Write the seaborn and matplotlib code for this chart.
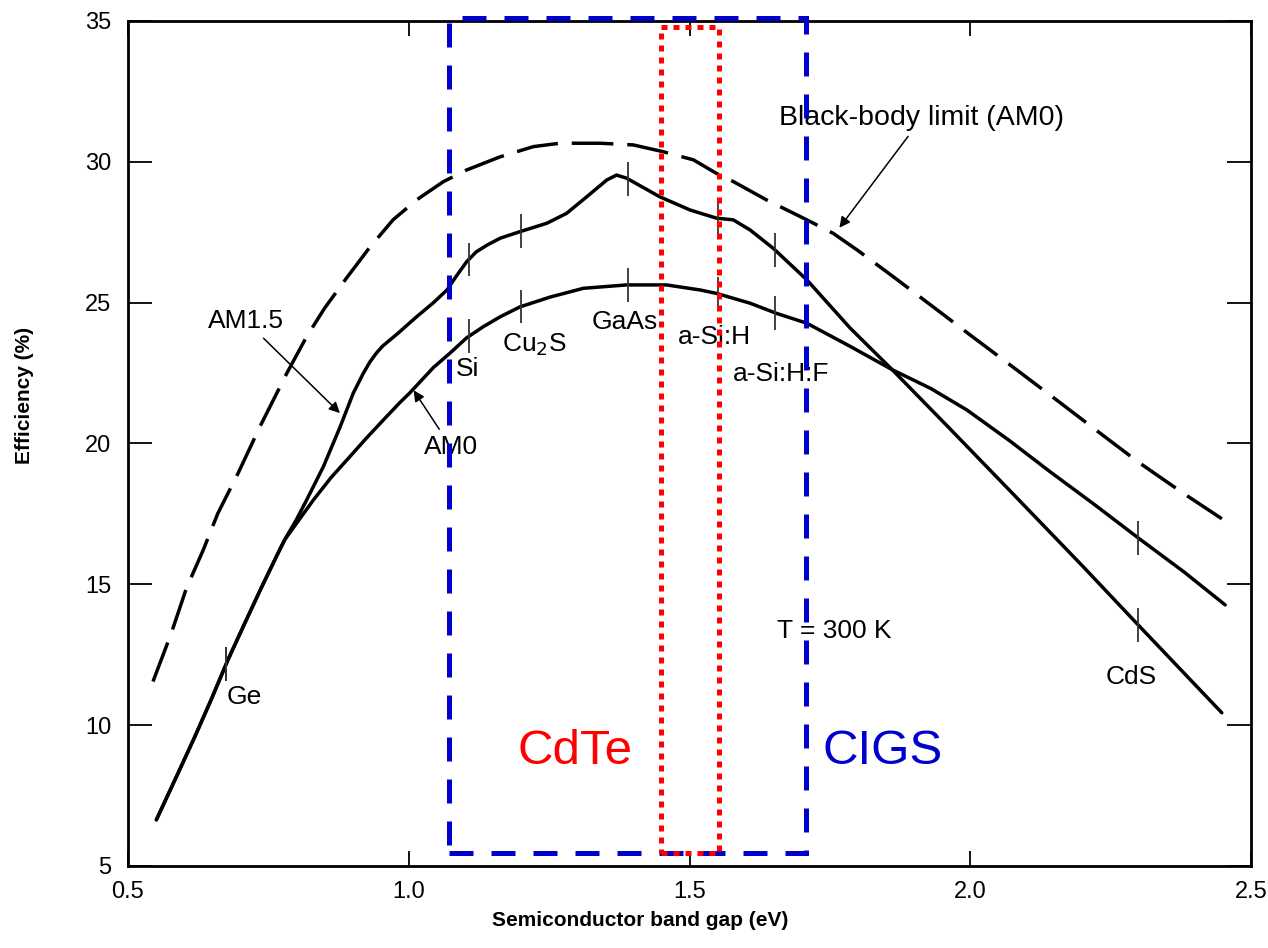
import matplotlib
matplotlib.use("Agg")
import matplotlib.pyplot as plt
import numpy as np
import seaborn as sns
from matplotlib.patches import Rectangle

# curves (band gap in eV, efficiency in %)
bb_gap = [0.5445, 0.577, 0.604, 0.634, 0.660, 0.696, 0.735, 0.783, 0.818, 0.850,
          0.889, 0.930, 0.972, 1.014, 1.062, 1.103, 1.163, 1.222, 1.269, 1.341,
          1.400, 1.453, 1.507, 1.548, 1.578, 1.637, 1.709, 1.756, 1.800, 1.863,
          1.934, 2.000, 2.083, 2.160, 2.231, 2.300, 2.379, 2.457]
bb_eff = [11.55, 13.26, 14.86, 16.22, 17.52, 18.94, 20.60, 22.50, 23.79, 24.80,
          25.87, 26.95, 27.94, 28.65, 29.30, 29.71, 30.18, 30.54, 30.66, 30.66,
          30.60, 30.36, 30.07, 29.59, 29.30, 28.65, 27.94, 27.46, 26.85, 25.92,
          24.85, 23.85, 22.61, 21.45, 20.37, 19.33, 18.24, 17.21]

am15_gap = [0.5505, 0.589, 0.619, 0.648, 0.678, 0.708, 0.737, 0.767, 0.779, 0.800,
            0.818, 0.848, 0.878, 0.901, 0.919, 0.931, 0.942, 0.953, 0.965, 0.980,
            1.014, 1.044, 1.068, 1.085, 1.103, 1.120, 1.140, 1.163, 1.198, 1.246,
            1.281, 1.317, 1.353, 1.370, 1.388, 1.447, 1.501, 1.548, 1.578, 1.608,
            1.649, 1.709, 1.786, 1.862, 1.964, 2.083, 2.200, 2.299, 2.448]
am15_eff = [6.64, 8.29, 9.59, 10.90, 12.32, 13.62, 14.86, 16.10, 16.58, 17.30,
            17.99, 19.18, 20.60, 21.78, 22.49, 22.90, 23.20, 23.45, 23.65, 23.90,
            24.50, 25.00, 25.45, 25.95, 26.45, 26.80, 27.05, 27.29, 27.52, 27.82,
            28.17, 28.76, 29.36, 29.53, 29.42, 28.76, 28.29, 28.00, 27.94, 27.58,
            26.93, 25.81, 24.10, 22.60, 20.52, 18.07, 15.65, 13.56, 10.44]

am0_gap = [0.5505, 0.589, 0.619, 0.648, 0.678, 0.708, 0.737, 0.767, 0.779, 0.805,
           0.830, 0.862, 0.895, 0.925, 0.955, 0.984, 1.002, 1.044, 1.073, 1.103,
           1.133, 1.163, 1.198, 1.252, 1.311, 1.388, 1.459, 1.519, 1.548, 1.608,
           1.655, 1.709, 1.786, 1.862, 1.930, 1.994, 2.070, 2.142, 2.220, 2.299,
           2.380, 2.454]
am0_eff = [6.64, 8.29, 9.59, 10.90, 12.32, 13.62, 14.86, 16.10, 16.58, 17.30,
           17.99, 18.80, 19.53, 20.20, 20.84, 21.45, 21.80, 22.70, 23.20, 23.75,
           24.15, 24.50, 24.85, 25.20, 25.51, 25.63, 25.63, 25.45, 25.33, 24.98,
           24.62, 24.27, 23.45, 22.61, 21.95, 21.19, 20.10, 19.00, 17.85, 16.65,
           15.45, 14.27]

# materials marked on the curves
materials = ["Ge", "Si", "Cu$_2$S", "GaAs", "a-Si:H", "a-Si:H:F", "CdS"]
mat_gap = [0.675, 1.107, 1.200, 1.390, 1.551, 1.652, 2.299]

# absorber band gap windows
cigs_range = [1.072, 1.7075]
cdte_range = [1.449, 1.5525]

x_ticks = [0.5, 1.0, 1.5, 2.0, 2.5]
y_ticks = [5, 10, 15, 20, 25, 30, 35]

sns.set_style("ticks")
plt.rcParams["font.family"] = ["Liberation Sans", "DejaVu Sans"]
plt.rcParams["text.color"] = "black"
plt.rcParams["axes.labelcolor"] = "black"
plt.rcParams["xtick.color"] = "black"
plt.rcParams["ytick.color"] = "black"

fig = plt.figure(figsize=(12.68, 9.48), dpi=100)
ax = fig.add_axes([128 / 1268, 82 / 948, 1123 / 1268, 845 / 948])

sns.lineplot(x=bb_gap, y=bb_eff, ax=ax, color="black", lw=2.5,
             linestyle=(0, (12, 4)), sort=False, estimator=None)
sns.lineplot(x=am15_gap, y=am15_eff, ax=ax, color="black", lw=2.5,
             sort=False, estimator=None)
sns.lineplot(x=am0_gap, y=am0_eff, ax=ax, color="black", lw=2.5,
             sort=False, estimator=None)

# small vertical marks where each material sits on the curves
for name, g in zip(materials, mat_gap):
    for gx, gy in [(am15_gap, am15_eff), (am0_gap, am0_eff)]:
        yv = np.interp(g, gx, gy)
        ax.vlines(g, yv - 0.6, yv + 0.6, color="#333333", lw=1.3)

ax.set_xlim(0.5, 2.5)
ax.set_ylim(5, 35)
ax.set_xticks(x_ticks)
ax.set_xticklabels(["0.5", "1.0", "1.5", "2.0", "2.5"])
ax.set_yticks(y_ticks)
ax.tick_params(axis="x", direction="in", length=11, width=1.3, top=True,
               labelsize=17, pad=11)
ax.tick_params(axis="y", direction="in", length=17, width=1.3, right=True,
               labelsize=17, pad=12)
for s in ax.spines.values():
    s.set_linewidth(2)
    s.set_color("black")

ax.set_xlabel("Semiconductor band gap (eV)", fontsize=15, fontweight="bold",
              va="center")
ax.xaxis.set_label_coords(0.456, -0.064)
ax.set_ylabel("Efficiency (%)", fontsize=15, fontweight="bold", va="center")
ax.yaxis.set_label_coords(-0.092, 0.557)

fs = 19
ax.text(0.707, 11.0, "Ge", fontsize=fs, ha="center", va="center")
ax.text(1.104, 22.65, "Si", fontsize=fs, ha="center", va="center")
ax.text(1.223, 23.5, "Cu$_2$S", fontsize=fs, ha="center", va="center")
ax.text(1.385, 24.31, "GaAs", fontsize=fs, ha="center", va="center")
ax.text(1.544, 23.78, "a-Si:H", fontsize=fs, ha="center", va="center")
ax.text(1.663, 22.47, "a-Si:H:F", fontsize=fs, ha="center", va="center")
ax.text(2.286, 11.71, "CdS", fontsize=fs, ha="center", va="center")
ax.text(1.757, 13.35, "T = 300 K", fontsize=fs, ha="center", va="center")

arrow = dict(arrowstyle="-|>", color="black", lw=1.1, mutation_scale=16)
ax.annotate("AM1.5", xy=(0.881, 21.01), xytext=(0.71, 24.35), fontsize=fs,
            ha="center", va="center", arrowprops=arrow)
ax.annotate("AM0", xy=(1.006, 21.97), xytext=(1.075, 19.88), fontsize=fs,
            ha="center", va="center", arrowprops=arrow)
ax.annotate("Black-body limit (AM0)", xy=(1.764, 27.58), xytext=(1.914, 31.56),
            fontsize=20.5, ha="center", va="center", arrowprops=arrow)

# CIGS (blue dashed) and CdTe (red dotted) windows
ax.add_patch(Rectangle((cigs_range[0], 5.46), cigs_range[1] - cigs_range[0],
                       35.1 - 5.46, fill=False, edgecolor="#0000CC", lw=3.6,
                       linestyle=(0, (4.8, 3.6)), clip_on=False, zorder=5))
ax.add_patch(Rectangle((cdte_range[0], 5.46), cdte_range[1] - cdte_range[0],
                       34.8 - 5.46, fill=False, edgecolor="#FF0000", lw=3.6,
                       linestyle=(0, (1.2, 1.2)), clip_on=False, zorder=6))
ax.text(1.296, 9.08, "CdTe", fontsize=35.5, color="#FF0000", ha="center",
        va="center")
ax.text(1.736, 9.08, "CIGS", fontsize=35.5, color="#0000CC", ha="left",
        va="center")

fig.savefig("out.png", dpi=100)
